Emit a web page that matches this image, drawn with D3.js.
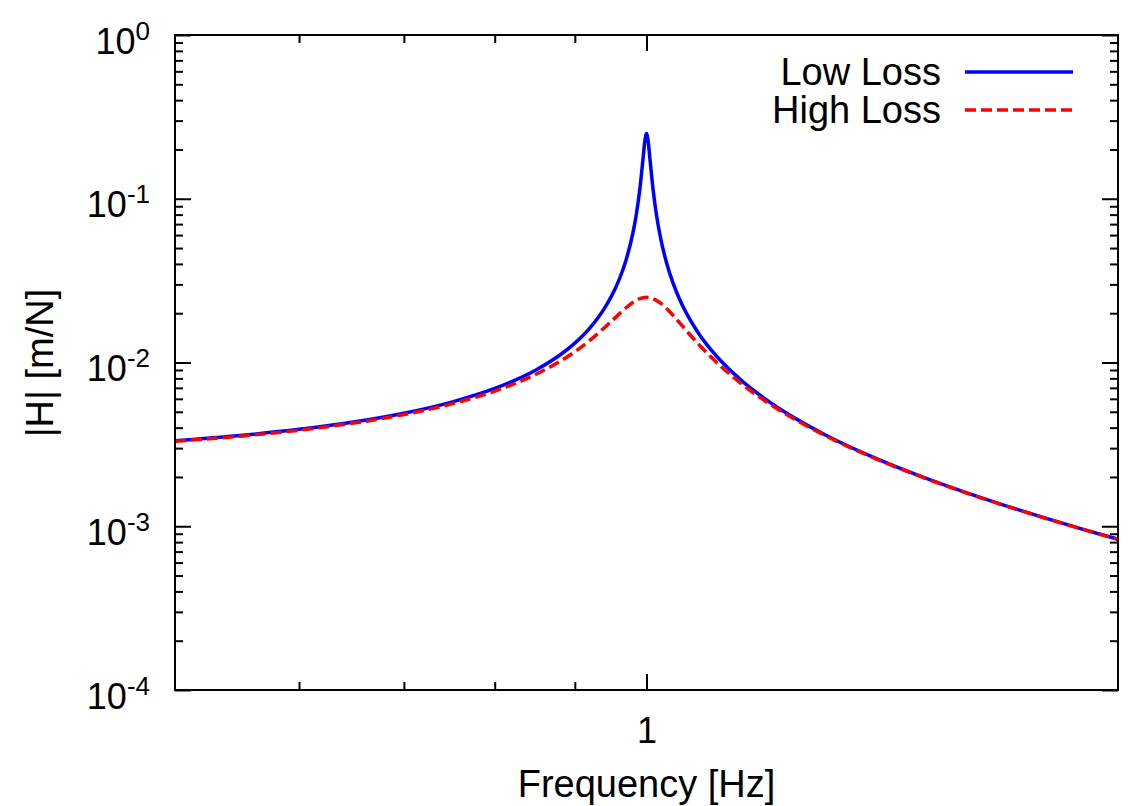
<!DOCTYPE html>
<html>
<head>
<meta charset="utf-8">
<script src="https://cdn.jsdelivr.net/npm/d3@7"></script>
<style>
  html, body { margin: 0; padding: 0; background: #fff; }
  #chart text { font-family: "Liberation Sans", Arial, Helvetica, sans-serif; fill: #000; }
</style>
</head>
<body>
<div id="chart"></div>
<script>
// Frequencies [Hz] read along the x axis
const freq = [0.5, 0.55, 0.6, 0.65, 0.7, 0.75, 0.8, 0.85, 0.88, 0.9,
  0.92, 0.94, 0.95, 0.96, 0.97, 0.98, 0.985, 0.99, 0.995, 0.9975,
  1.0, 1.0025, 1.005, 1.01, 1.015, 1.02, 1.03, 1.04, 1.05, 1.06,
  1.08, 1.1, 1.15, 1.2, 1.3, 1.4, 1.5, 1.6, 1.7, 1.8,
  1.9, 2.0];

// |H| [m/N] for the low loss curve
const lowLoss = [3.333e-3, 3.584e-3, 3.906e-3, 4.328e-3, 4.901e-3, 5.713e-3, 6.942e-3, 9.003e-3, 0.01107, 0.01314,
  0.01624, 0.02140, 0.02551, 0.03163, 0.04171, 0.06121, 0.07961, 0.1122, 0.1770, 0.2237,
  0.25, 0.2236, 0.1766, 0.1114, 0.07853, 0.06007, 0.04051, 0.03041, 0.02428, 0.02016,
  0.01500, 0.01189, 7.748e-3, 5.680e-3, 3.623e-3, 2.604e-3, 2.000e-3, 1.603e-3, 1.323e-3, 1.116e-3,
  9.579e-4, 8.333e-4];

// |H| [m/N] for the high loss curve
const highLoss = [3.304e-3, 3.548e-3, 3.859e-3, 4.266e-3, 4.810e-3, 5.571e-3, 6.691e-3, 8.476e-3, 0.01013, 0.01164,
  0.01364, 0.01629, 0.01790, 0.01967, 0.02152, 0.02324, 0.02396, 0.02452, 0.02488, 0.02497,
  0.025, 0.02497, 0.02488, 0.02451, 0.02393, 0.02318, 0.02135, 0.01937, 0.01746, 0.01572,
  0.01288, 0.01075, 7.404e-3, 5.540e-3, 3.586e-3, 2.590e-3, 1.994e-3, 1.599e-3, 1.321e-3, 1.115e-3,
  9.571e-4, 8.329e-4];

// Tick values
const xMajorTicks = [1];
const xMinorTicks = [0.6, 0.7, 0.8, 0.9];
const yMajorTicks = [1e-4, 1e-3, 1e-2, 1e-1, 1e0];
const yExponents = ["-4", "-3", "-2", "-1", "0"];
const yMinorTicks = [];
[1e-4, 1e-3, 1e-2, 1e-1].forEach(dec => {
  [2, 3, 4, 5, 6, 7, 8, 9].forEach(m => yMinorTicks.push(m * dec));
});

const seriesNames = ["Low Loss", "High Loss"];
const seriesColors = ["#0000ff", "#ff0000"];
const seriesDash = [null, "11,5"];

const W = 1138, H = 806;
const margin = {top: 35, right: 20, bottom: 116, left: 175};
const width = W - margin.left - margin.right,
  height = H - margin.top - margin.bottom;

const svg = d3.select("#chart")
  .append("svg")
  .attr("width", W)
  .attr("height", H)
  .append("g")
  .attr("transform", `translate(${margin.left},${margin.top})`);

// Scales
const x = d3.scaleLog().domain([0.5, 2]).range([0, width]);
const y = d3.scaleLog().domain([1e-4, 1]).range([height, 0]);

const tickFont = 36;  // tick labels
const labelFont = 38; // axis titles and legend

function styleAxis(g) {
  g.select(".domain").remove();
  g.selectAll(".tick line").attr("stroke", "#000").attr("stroke-width", 2);
  g.selectAll("text").style("font-size", tickFont + "px");
}

// Left axis, major ticks with 10^n labels
const yLeft = svg.append("g")
  .call(d3.axisLeft(y).tickValues(yMajorTicks).tickSize(-16).tickPadding(25).tickFormat(() => ""))
  .call(styleAxis);

yLeft.selectAll(".tick text")
  .attr("dy", 18)
  .each(function(d, i) {
    const t = d3.select(this);
    t.append("tspan").text("10");
    t.append("tspan").attr("dy", -14).style("font-size", "26px").text(yExponents[i]);
  });

// Left minor ticks
svg.append("g")
  .call(d3.axisLeft(y).tickValues(yMinorTicks).tickSize(-8).tickFormat(""))
  .call(styleAxis);

// Right mirrored ticks
svg.append("g")
  .attr("transform", `translate(${width},0)`)
  .call(d3.axisRight(y).tickValues(yMajorTicks).tickSize(-16).tickFormat(""))
  .call(styleAxis);
svg.append("g")
  .attr("transform", `translate(${width},0)`)
  .call(d3.axisRight(y).tickValues(yMinorTicks).tickSize(-8).tickFormat(""))
  .call(styleAxis);

// Bottom axis
svg.append("g")
  .attr("transform", `translate(0,${height})`)
  .call(d3.axisBottom(x).tickValues(xMajorTicks).tickSize(-16).tickPadding(27).tickFormat(d3.format("d")))
  .call(styleAxis);
svg.append("g")
  .attr("transform", `translate(0,${height})`)
  .call(d3.axisBottom(x).tickValues(xMinorTicks).tickSize(-8).tickFormat(""))
  .call(styleAxis);

// Top mirrored ticks
svg.append("g")
  .call(d3.axisTop(x).tickValues(xMajorTicks).tickSize(-16).tickFormat(""))
  .call(styleAxis);
svg.append("g")
  .call(d3.axisTop(x).tickValues(xMinorTicks).tickSize(-8).tickFormat(""))
  .call(styleAxis);

// Curves
const data = freq.map((f, i) => ({f, low: lowLoss[i], high: highLoss[i]}));
const keys = ["low", "high"];

keys.forEach((k, i) => {
  const line = d3.line()
    .x(d => x(d.f))
    .y(d => y(d[k]))
    .curve(d3.curveMonotoneX);
  svg.append("path")
    .datum(data)
    .attr("fill", "none")
    .attr("stroke", seriesColors[i])
    .attr("stroke-width", 3.5)
    .attr("stroke-dasharray", seriesDash[i])
    .attr("d", line);
});

// Border
svg.append("rect")
  .attr("width", width)
  .attr("height", height)
  .attr("fill", "none")
  .attr("stroke", "#000")
  .attr("stroke-width", 2);

// Legend
const legend = svg.append("g")
  .attr("transform", `translate(${941 - margin.left},${72 - margin.top})`);

seriesNames.forEach((name, i) => {
  const row = legend.append("g").attr("transform", `translate(0,${i * 38})`);
  row.append("text")
    .attr("x", 0)
    .attr("y", 13)
    .attr("text-anchor", "end")
    .style("font-size", labelFont + "px")
    .text(name);
  row.append("line")
    .attr("x1", 24)
    .attr("x2", 132)
    .attr("stroke", seriesColors[i])
    .attr("stroke-width", 3.5)
    .attr("stroke-dasharray", seriesDash[i]);
});

// Axis labels
svg.append("text")
  .attr("x", x(1))
  .attr("y", 797 - margin.top)
  .attr("text-anchor", "middle")
  .style("font-size", labelFont + "px")
  .text("Frequency [Hz]");

svg.append("text")
  .attr("transform", `translate(${53 - margin.left},${363 - margin.top}) rotate(-90)`)
  .attr("text-anchor", "middle")
  .style("font-size", labelFont + "px")
  .text("|H| [m/N]");
</script>
</body>
</html>
